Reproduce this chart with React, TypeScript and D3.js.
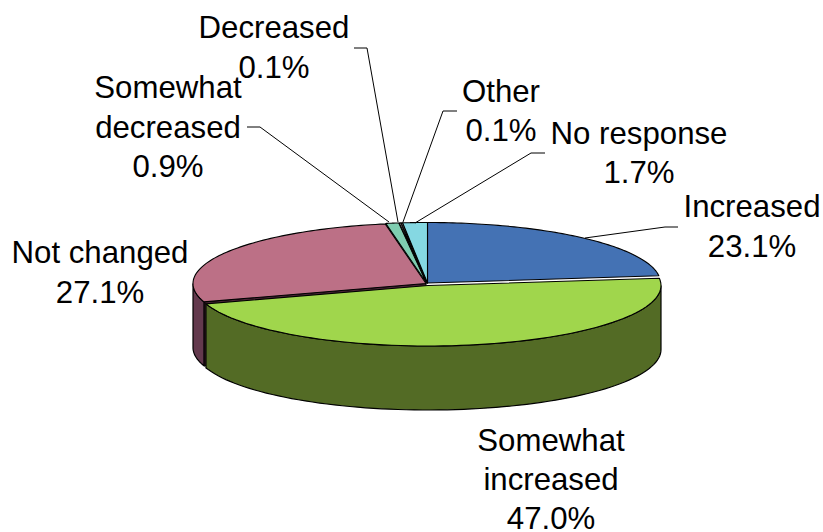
import React from "react";
import * as d3 from "d3";

const categories = ["Increased", "Somewhat increased", "Not changed", "Somewhat decreased", "Decreased", "Other", "No response"];
const shares = [23.1, 47.0, 27.1, 0.9, 0.1, 0.1, 1.7];
const topColors = ["#4472b4", "#a0d64c", "#bc7086", "#7fcdb0", "#ffffff", "#ffffff", "#85d8e2"];
const wallColors = ["#2f4f7f", "#536b25", "#63394d", "#3f6658", "#3f6658", "#47686a", "#426c71"];
// Slice offsets from the pie centre, in px, giving the slightly pulled-apart look.
const offsetsX = [0.5, 1, -1, -0.5, 0, 0.5, 0.5];
const offsetsY = [-0.5, 2, 0, -0.5, -0.5, -0.5, -0.5];
const labelLines = [["Increased", "23.1%"], ["Somewhat", "increased", "47.0%"], ["Not changed", "27.1%"], ["Somewhat", "decreased", "0.9%"], ["Decreased", "0.1%"], ["Other", "0.1%"], ["No response", "1.7%"]];
const labelX = [752, 551, 100, 168, 274, 501, 639];
const labelY = [217, 451, 263, 98, 38, 102, 144];
const labelStep = [40, 39, 40, 39.5, 40, 39, 39];
const leaderLines: [number, number][][] = [
  [[678, 227], [665, 227], [585, 238]],
  [],
  [],
  [[247, 127], [260, 127], [389, 222]],
  [[354, 48], [367, 48], [398, 222]],
  [[457, 111], [443, 111], [403, 222]],
  [[545, 153], [531, 153], [415, 223]],
];

const CX = 427;
const CY = 283.5;
const RX = 233;
const RY = 60.5;
const DEPTH = 64;

const slices = d3.pie<number>().sort(null).value((d) => d)(shares);
const rxScale = d3.scaleLinear().domain([0, 1]).range([0, RX]);
const ryScale = d3.scaleLinear().domain([0, 1]).range([0, RY]);
const line = d3.line<[number, number]>();

function rimPoint(a: number, ox: number, oy: number, dy = 0): [number, number] {
  return [CX + ox + rxScale(Math.sin(a)), CY + oy + dy - ryScale(Math.cos(a))];
}

function rim(a0: number, a1: number, ox: number, oy: number, dy = 0) {
  return d3.range(0, 81).map((i) => rimPoint(a0 + ((a1 - a0) * i) / 80, ox, oy, dy));
}

function topPath(i: number) {
  const s = slices[i];
  const apex: [number, number] = [CX + offsetsX[i], CY + offsetsY[i]];
  return line([apex, ...rim(s.startAngle, s.endAngle, offsetsX[i], offsetsY[i])]) + "Z";
}

// The outer wall is only visible on the near half of the ellipse (90° to 270°).
function wallPath(i: number) {
  const s = slices[i];
  const a0 = Math.max(s.startAngle, Math.PI / 2);
  const a1 = Math.min(s.endAngle, (3 * Math.PI) / 2);
  if (a1 <= a0) return null;
  const upper = rim(a0, a1, offsetsX[i], offsetsY[i]);
  const lower = rim(a0, a1, offsetsX[i], offsetsY[i], DEPTH).reverse();
  return line([...upper, ...lower]) + "Z";
}

// Cut face along the start radius of a slice, seen where neighbours are pulled apart.
function cutPath(i: number) {
  const a = slices[i].startAngle;
  const p = rimPoint(a, offsetsX[i], offsetsY[i]);
  const apex: [number, number] = [CX + offsetsX[i], CY + offsetsY[i]];
  return line([apex, p, [p[0], p[1] + DEPTH], [apex[0], apex[1] + DEPTH]]) + "Z";
}

export default function App() {
  return (
    <svg width={823} height={532} style={{ position: "absolute", left: 0, top: 0, background: "#fff" }} fontFamily="'Liberation Sans', Arial, sans-serif" fontSize={31.2} fill="#000">
      <path d={cutPath(2)} fill="#4a2436" stroke="#000" strokeWidth={1} />
      {categories.map((c, i) => {
        const d = wallPath(i);
        return d ? <path key={c} d={d} fill={wallColors[i]} stroke="#000" strokeWidth={1.2} /> : null;
      })}
      {categories.map((c, i) => (
        <path key={c} d={topPath(i)} fill={topColors[i]} stroke="#000" strokeWidth={1.1} strokeLinejoin="round" />
      ))}
      {leaderLines.map((pts, i) =>
        pts.length ? <path key={i} d={line(pts) ?? ""} fill="none" stroke="#000" strokeWidth={1} /> : null
      )}
      {labelLines.map((lines, i) => (
        <text key={categories[i]} textAnchor="middle">
          {lines.map((t, j) => (
            <tspan key={j} x={labelX[i]} y={labelY[i] + j * labelStep[i]}>{t}</tspan>
          ))}
        </text>
      ))}
    </svg>
  );
}
